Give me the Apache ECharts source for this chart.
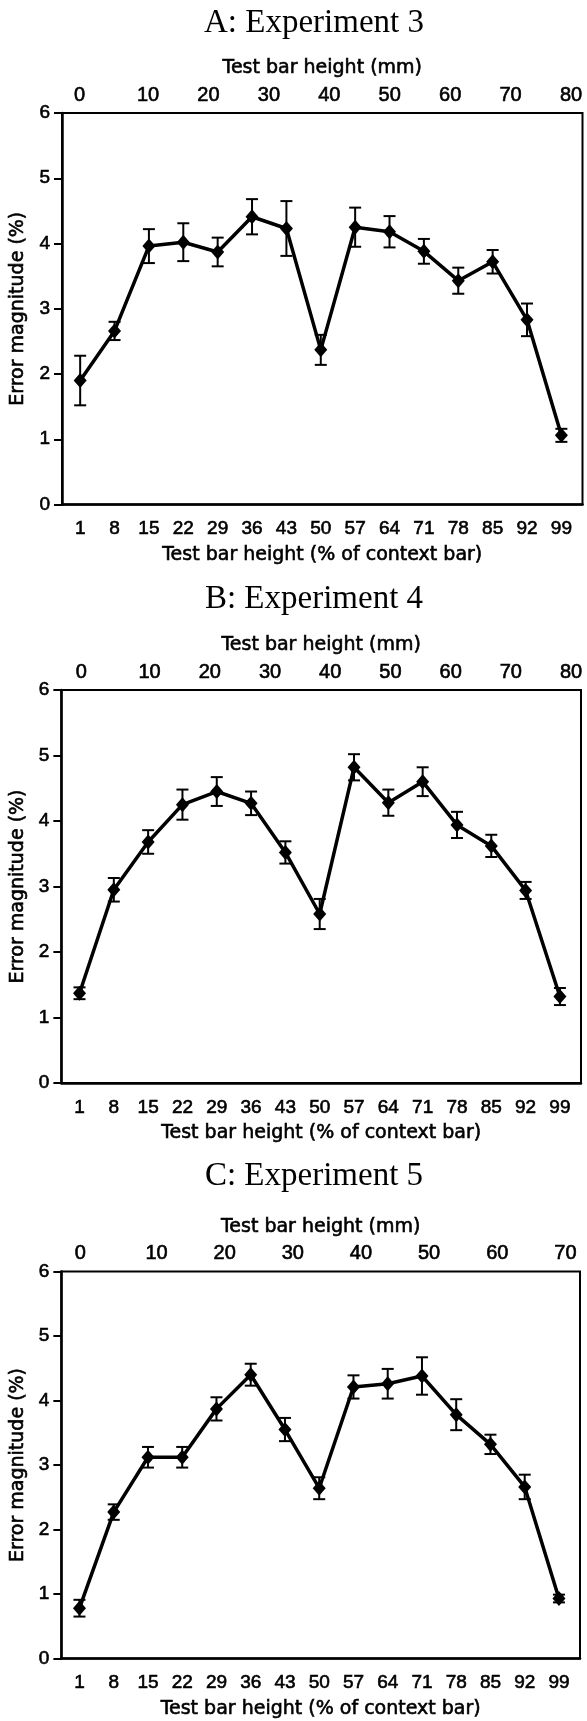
<!DOCTYPE html>
<html>
<head>
<meta charset="utf-8">
<script src="https://cdn.jsdelivr.net/npm/echarts@6/dist/echarts.min.js"></script>
<style>
html,body{margin:0;padding:0;background:#fff;}
#chart{width:587px;height:1721px;}
</style>
</head>
<body>
<div id="chart"></div>
<script>
// ---- data ----
const pct = [1, 8, 15, 22, 29, 36, 43, 50, 57, 64, 71, 78, 85, 92, 99];
const mmTicksAB = [0, 10, 20, 30, 40, 50, 60, 70, 80];
const mmTicksC = [0, 10, 20, 30, 40, 50, 60, 70];
const yTicks = [0, 1, 2, 3, 4, 5, 6];

const titles = ['A: Experiment 3', 'B: Experiment 4', 'C: Experiment 5'];

const expA = [1.90, 2.66, 3.96, 4.02, 3.87, 4.41, 4.23, 2.37, 4.25, 4.18, 3.88, 3.43, 3.72, 2.83, 1.06];
const errA = [0.38, 0.14, 0.26, 0.29, 0.22, 0.27, 0.42, 0.23, 0.30, 0.24, 0.19, 0.20, 0.18, 0.25, 0.10];

const expB = [1.37, 2.95, 3.68, 4.25, 4.45, 4.27, 3.52, 2.58, 4.82, 4.28, 4.60, 3.94, 3.62, 2.94, 1.32];
const errB = [0.09, 0.18, 0.18, 0.23, 0.22, 0.18, 0.17, 0.23, 0.20, 0.20, 0.22, 0.20, 0.17, 0.13, 0.13];

const expC = [0.78, 2.27, 3.12, 3.12, 3.87, 4.40, 3.55, 2.64, 4.21, 4.26, 4.38, 3.78, 3.32, 2.66, 0.93];
const errC = [0.13, 0.12, 0.16, 0.16, 0.18, 0.17, 0.18, 0.17, 0.18, 0.23, 0.29, 0.24, 0.15, 0.19, 0.06];

// ---- layout ----
const panels = [
  {title: titles[0], vals: expA, errs: errA, mm: mmTicksAB, top: 113, height: 391.5, left: 62, right: 4.5, titleTop: 2,    mmMin: -4.24, mmMax: 81.9},
  {title: titles[1], vals: expB, errs: errB, mm: mmTicksAB, top: 690, height: 393,   left: 59.5, right: 6, titleTop: 578, mmMin: -4.65, mmMax: 81.65},
  {title: titles[2], vals: expC, errs: errC, mm: mmTicksC,  top: 1271.5, height: 387, left: 61, right: 7,  titleTop: 1155, mmMin: -3.96, mmMax: 72.14}
];

const tickFont = 'Liberation Sans, Arial, sans-serif';
const nameFont = 'DejaVu Sans, sans-serif';
const serif = 'Liberation Serif, Times New Roman, serif';
const thick = {textBorderColor: '#000', textBorderWidth: 0.6};

const option = {
  backgroundColor: '#fff',
  animation: false,
  title: [], grid: [], xAxis: [], yAxis: [], series: []
};

panels.forEach((p, i) => {
  option.title.push({
    text: p.title, left: 309, top: p.titleTop, textAlign: 'center',
    textStyle: {fontFamily: serif, fontSize: 33, fontWeight: 'normal', color: '#000'}
  });
  option.grid.push({
    left: p.left, right: p.right, top: p.top, height: p.height,
    show: true, borderColor: '#000', borderWidth: 2, backgroundColor: 'transparent'
  });
  // bottom: % of context bar
  option.xAxis.push({
    type: 'value', gridIndex: i, position: 'bottom', min: -2.7, max: 103.3,
    name: 'Test bar height (% of context bar)', nameLocation: 'middle', nameGap: 41,
    nameTextStyle: Object.assign({fontFamily: nameFont, fontSize: 19, color: '#000'}, thick),
    axisLine: {show: true, onZero: false, lineStyle: {color: '#000', width: 2.5}},
    axisTick: {show: false},
    splitLine: {show: false},
    axisLabel: Object.assign({customValues: pct, margin: 15, fontFamily: tickFont, fontSize: 19, color: '#000'}, thick)
  });
  // top: mm
  option.xAxis.push({
    type: 'value', gridIndex: i, position: 'top', min: p.mmMin, max: p.mmMax,
    name: 'Test bar height (mm)', nameLocation: 'middle', nameGap: 35,
    nameTextStyle: Object.assign({fontFamily: nameFont, fontSize: 19, color: '#000'}, thick),
    axisLine: {show: false, onZero: false},
    axisTick: {show: false},
    splitLine: {show: false},
    axisLabel: Object.assign({
      customValues: p.mm, margin: 8, fontFamily: tickFont, fontSize: 20, color: '#000',
      formatter: v => v === 0 ? '{z|0}' : String(v),
      rich: {z: Object.assign({fontFamily: tickFont, fontSize: 20, color: '#000', padding: [0, 16, 0, 0]}, thick)}
    }, thick)
  });
  option.yAxis.push({
    type: 'value', gridIndex: i, min: 0, max: 6, interval: 1,
    name: 'Error magnitude (%)', nameLocation: 'middle', nameGap: 31,
    nameTextStyle: Object.assign({fontFamily: nameFont, fontSize: 19, color: '#000'}, thick),
    axisLine: {show: true, onZero: false, lineStyle: {color: '#000', width: 2.5}},
    axisTick: {show: true, length: 8, lineStyle: {color: '#000', width: 2}},
    splitLine: {show: false},
    axisLabel: Object.assign({margin: 12, fontFamily: tickFont, fontSize: 19, color: '#000',
      formatter: v => yTicks.indexOf(v) >= 0 ? String(v) : ''}, thick)
  });
  const lineData = pct.map((x, k) => [x, p.vals[k]]);
  const errData = pct.map((x, k) => [x, p.vals[k] - p.errs[k], p.vals[k] + p.errs[k]]);
  option.series.push({
    type: 'custom', xAxisIndex: i * 2, yAxisIndex: i,
    encode: {x: 0, y: [1, 2]},
    data: errData,
    renderItem: (params, api) => {
      const x = api.value(0);
      const lo = api.coord([x, api.value(1)]);
      const hi = api.coord([x, api.value(2)]);
      const hw = 6;
      const st = {stroke: '#000', lineWidth: 2};
      return {type: 'group', children: [
        {type: 'line', shape: {x1: lo[0], y1: lo[1], x2: hi[0], y2: hi[1]}, style: st},
        {type: 'line', shape: {x1: lo[0] - hw, y1: lo[1], x2: lo[0] + hw, y2: lo[1]}, style: st},
        {type: 'line', shape: {x1: hi[0] - hw, y1: hi[1], x2: hi[0] + hw, y2: hi[1]}, style: st}
      ]};
    },
    z: 2
  });
  option.series.push({
    type: 'line', xAxisIndex: i * 2, yAxisIndex: i,
    data: lineData,
    symbol: 'diamond', symbolSize: [13, 15],
    itemStyle: {color: '#000'},
    lineStyle: {color: '#000', width: 3.5},
    z: 3
  });
});

const chart = echarts.init(document.getElementById('chart'), null, {renderer: 'canvas'});
chart.setOption(option);
</script>
</body>
</html>
